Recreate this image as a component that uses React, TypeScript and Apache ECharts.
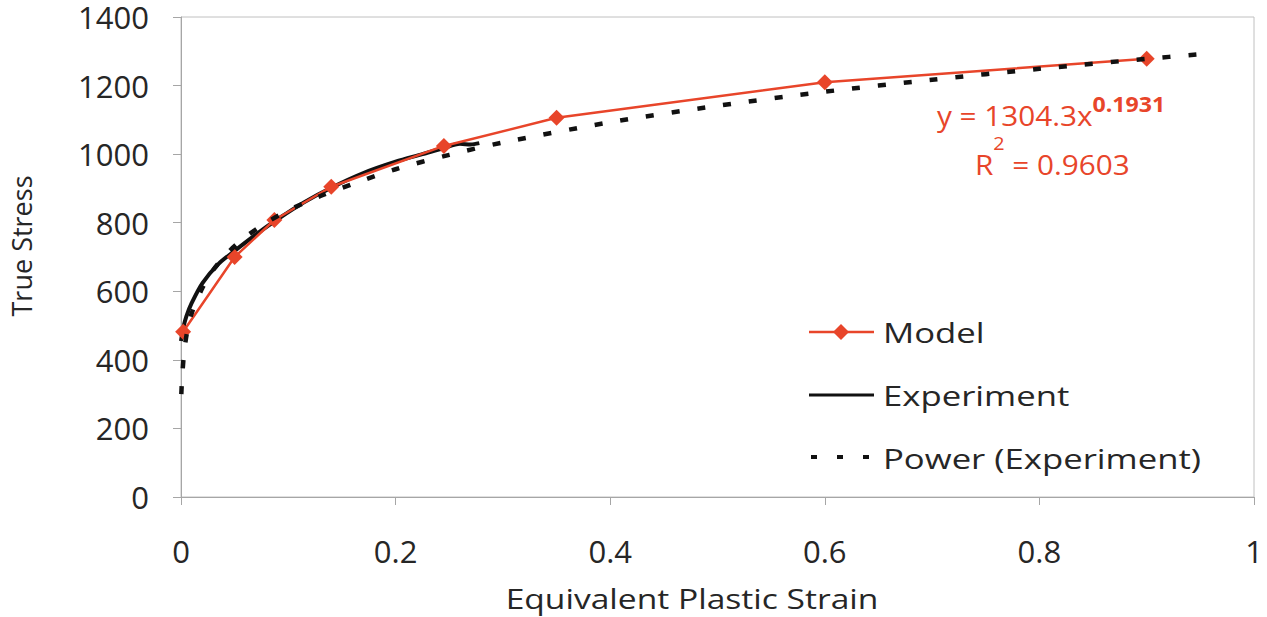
import React, { useEffect, useRef } from "react";
import * as echarts from "echarts";

const RED = "#E8452A";
const FONT = "'Open Sans', 'Liberation Sans', sans-serif";

// Model (red, diamonds)
const modelStrain = [0.002, 0.05, 0.087, 0.14, 0.245, 0.35, 0.6, 0.9];
const modelStress = [482, 700, 808, 905, 1024, 1106, 1210, 1278];

// Experiment (solid black)
const expStrain = [0.0, 0.002, 0.005, 0.01, 0.02, 0.035, 0.05, 0.07, 0.09, 0.115, 0.14, 0.17, 0.2, 0.225, 0.245, 0.26, 0.27, 0.278];
const expStress = [455, 492, 527, 566, 624, 680, 718, 766, 810, 860, 902, 945, 978, 1000, 1018, 1030, 1028, 1032];

// Power (Experiment) trend line (dashed black)
const powStrain = [0.0003, 0.001, 0.003, 0.006, 0.01, 0.02, 0.03, 0.045, 0.06, 0.08, 0.1, 0.13, 0.16, 0.2, 0.25, 0.3, 0.4, 0.5, 0.6, 0.7, 0.8, 0.9, 0.948];
const powStress = [300, 345, 425, 486, 536, 610, 662, 717, 758, 801, 836, 878, 913, 956, 998, 1034, 1093, 1141, 1182, 1217, 1249, 1278, 1291];

const xTicks = { min: 0, max: 1, interval: 0.2 };
const yTicks = { min: 0, max: 1400, interval: 200 };

const xTitle = "Equivalent Plastic Strain";
const yTitle = "True Stress";
const legendNames = ["Model", "Experiment", "Power (Experiment)"];
const eqMain = "y = 1304.3x";
const eqExp = "0.1931";
const r2Label = "R";
const r2Sup = "2";
const r2Value = " = 0.9603";

const zip = (a: number[], b: number[]) => a.map((v, i) => [v, b[i]]);

export default function App() {
  const ref = useRef<HTMLDivElement>(null);
  useEffect(() => {
    if (!ref.current) return;
    const chart = echarts.init(ref.current, undefined, { renderer: "svg" });
    const axisColor = "#A6A6A6";
    const labelColor = "#262626";
    const legendText = (text: string, y: number) => ({
      type: "text",
      x: 883,
      y,
      scaleX: 1.24,
      style: { text, font: `28px ${FONT}`, fill: labelColor, verticalAlign: "middle" },
    });
    chart.setOption({
      animation: false,
      backgroundColor: "#ffffff",
      textStyle: { fontFamily: FONT },
      grid: {
        left: 181,
        top: 17,
        width: 1073,
        height: 480,
        containLabel: false,
        outerBoundsMode: "none",
        show: true,
        borderColor: "#C0C0C0",
        borderWidth: 1,
      },
      xAxis: {
        type: "value",
        min: xTicks.min,
        max: xTicks.max,
        interval: xTicks.interval,
        axisLine: { show: true, lineStyle: { color: axisColor, width: 1 } },
        axisTick: { show: true, length: 8, lineStyle: { color: axisColor } },
        axisLabel: { fontSize: 31, lineHeight: 28, color: labelColor, margin: 40, fontFamily: FONT, formatter: (v: number) => String(v) },
        splitLine: { show: false },
      },
      yAxis: {
        type: "value",
        min: yTicks.min,
        max: yTicks.max,
        interval: yTicks.interval,
        axisLine: { show: true, lineStyle: { color: axisColor, width: 1 } },
        axisTick: { show: true, length: 8, lineStyle: { color: axisColor } },
        axisLabel: { fontSize: 31, lineHeight: 26, color: labelColor, margin: 32, fontFamily: FONT, formatter: (v: number) => String(v) },
        splitLine: { show: false },
      },
      series: [
        {
          name: legendNames[1],
          type: "line",
          data: zip(expStrain, expStress),
          showSymbol: false,
          symbol: "none",
          smooth: 0.3,
          lineStyle: { color: "#111111", width: 4 },
          z: 2,
        },
        {
          name: legendNames[0],
          type: "line",
          data: zip(modelStrain, modelStress),
          symbol: "diamond",
          symbolSize: 16,
          lineStyle: { color: RED, width: 2.5 },
          itemStyle: { color: RED },
          z: 3,
        },
        {
          name: legendNames[2],
          type: "line",
          data: zip(powStrain, powStress),
          showSymbol: false,
          symbol: "none",
          smooth: 0.3,
          lineStyle: { color: "#111111", width: 4.5, type: [8, 18] },
          z: 4,
        },
      ],
      graphic: [
        // Axis titles
        {
          type: "text",
          x: 692,
          y: 598,
          scaleX: 1.2,
          style: { text: xTitle, font: `28px ${FONT}`, fill: labelColor, align: "center", verticalAlign: "middle" },
        },
        {
          type: "text",
          x: 21,
          y: 246,
          rotation: Math.PI / 2,
          style: { text: yTitle, font: `27px ${FONT}`, fill: labelColor, align: "center", verticalAlign: "middle" },
        },
        // Legend
        { type: "line", shape: { x1: 809, y1: 332, x2: 874, y2: 332 }, style: { stroke: RED, lineWidth: 2.5 } },
        { type: "polygon", shape: { points: [[841, 324], [849, 332], [841, 340], [833, 332]] }, style: { fill: RED } },
        legendText(legendNames[0], 332),
        { type: "line", shape: { x1: 809, y1: 395, x2: 874, y2: 395 }, style: { stroke: "#111111", lineWidth: 3 } },
        legendText(legendNames[1], 395),
        { type: "line", shape: { x1: 811, y1: 457, x2: 874, y2: 457 }, style: { stroke: "#111111", lineWidth: 4, lineDash: [6, 20] } },
        legendText(legendNames[2], 458),
        // Trendline equation
        {
          type: "text",
          x: 937,
          y: 93,
          scaleX: 1.1,
          style: {
            text: `{a|${eqMain}}{b|${eqExp}}`,
            fill: RED,
            rich: {
              a: { fontSize: 27, fontFamily: FONT, fill: RED, lineHeight: 46 },
              b: { fontSize: 21, fontFamily: FONT, fontWeight: "bold", fill: RED, lineHeight: 21, verticalAlign: "top" },
            },
          },
        },
        {
          type: "text",
          x: 975,
          y: 134,
          scaleX: 1.1,
          style: {
            text: `{a|${r2Label}}{b|${r2Sup}}{a|${r2Value}}`,
            fill: RED,
            rich: {
              a: { fontSize: 27, fontFamily: FONT, fill: RED, lineHeight: 62 },
              b: { fontSize: 18, fontFamily: FONT, fill: RED, lineHeight: 18, verticalAlign: "top" },
            },
          },
        },
      ],
    });
    return () => chart.dispose();
  }, []);
  return (
    <div
      ref={ref}
      style={{ position: "absolute", left: 0, top: 0, width: 1267, height: 617 }}
    />
  );
}
